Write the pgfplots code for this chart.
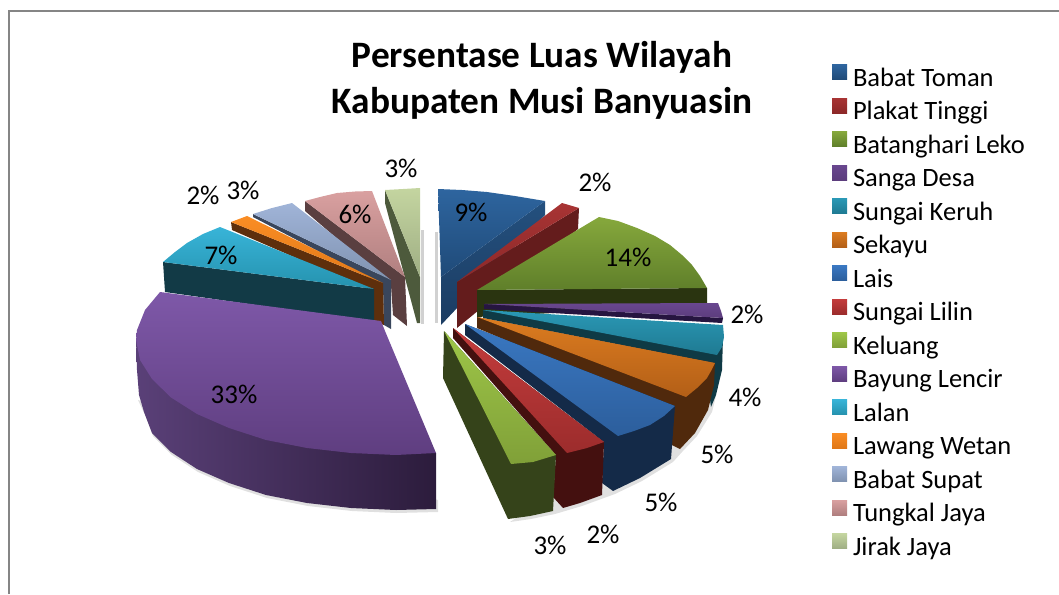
\documentclass[border=0pt]{standalone}
\usepackage{pgfplots}
\pgfplotsset{compat=1.18}
\usepackage{fontspec}
\setmainfont{Carlito}
\definecolor{aT}{HTML}{2E659F}\definecolor{aB}{HTML}{1F4A78}\definecolor{aS}{HTML}{1B3C62}\definecolor{aR}{HTML}{24507E}
\definecolor{bT}{HTML}{A83434}\definecolor{bB}{HTML}{8C2828}\definecolor{bS}{HTML}{641C1C}
\definecolor{cT}{HTML}{86A83C}\definecolor{cB}{HTML}{5F7F2A}\definecolor{cS}{HTML}{2A3410}
\definecolor{dT}{HTML}{69478F}\definecolor{dB}{HTML}{5C3D7D}\definecolor{dS}{HTML}{261540}
\definecolor{eT}{HTML}{2A98B5}\definecolor{eB}{HTML}{1F7A92}\definecolor{eS}{HTML}{0F3A45}
\definecolor{fT}{HTML}{DC7C20}\definecolor{fB}{HTML}{B35F17}\definecolor{fS}{HTML}{50290C}
\definecolor{gT}{HTML}{3A78C2}\definecolor{gB}{HTML}{2C5E9C}\definecolor{gS}{HTML}{142A48}
\definecolor{hT}{HTML}{C43C3C}\definecolor{hB}{HTML}{9C2C2C}\definecolor{hS}{HTML}{44100F}
\definecolor{iT}{HTML}{9EC648}\definecolor{iB}{HTML}{80A038}\definecolor{iS}{HTML}{35431A}
\definecolor{jT}{HTML}{7E58A8}\definecolor{jB}{HTML}{5F3E80}\definecolor{jL}{HTML}{5A4078}\definecolor{jR}{HTML}{2C1C3C}
\definecolor{kT}{HTML}{38B4D8}\definecolor{kB}{HTML}{2592AE}\definecolor{kS}{HTML}{123A46}
\definecolor{lT}{HTML}{FA8D24}\definecolor{lB}{HTML}{E07818}\definecolor{lS}{HTML}{5E2F0C}
\definecolor{mT}{HTML}{A0B4D8}\definecolor{mB}{HTML}{7F92B0}\definecolor{mS}{HTML}{39465C}
\definecolor{nT}{HTML}{D9A0A0}\definecolor{nB}{HTML}{B07F7F}\definecolor{nS}{HTML}{5A3F40}
\definecolor{oT}{HTML}{C4D5A0}\definecolor{oB}{HTML}{9FAE84}\definecolor{oS}{HTML}{4D5A3C}
\newcommand{\poly}[2]{\addplot[forget plot,draw=none,#1] coordinates {#2} -- cycle;}
\newcommand{\tp}[2]{\poly{top color=#1T,bottom color=#1B}{#2}}
\newcommand{\sd}[2]{\poly{fill=#1S}{#2}}
\newcommand{\lab}[3]{\node[font=\fontsize{27}{27}\selectfont,inner sep=0pt] at (axis cs:#1,#2) {#3};}
\begin{document}
\begin{tikzpicture}
\useasboundingbox (0,0) rectangle (1059pt,594pt);
\begin{axis}[
  at={(0,0)},anchor=south west,
  scale only axis,width=1059pt,height=594pt,
  xmin=0,xmax=1059,ymin=0,ymax=594,y dir=reverse,
  hide axis,clip=false,
  legend cell align=left,
  legend image code/.code={\path[#1,draw=none] (0pt,0.5pt) rectangle (15pt,15.5pt);\path[draw=none,fill=none] (0pt,0pt) -- (21pt,0pt);},
  legend style={at={(axis cs:832,64.5)},anchor=north west,draw=none,fill=none,inner sep=0pt,outer sep=0pt,
    font=\fontsize{26.5}{26.5}\selectfont,
    row sep=5pt,
    nodes={inner sep=0pt,text height=19pt,text depth=7pt}},
]
\addlegendimage{top color=aT,bottom color=aB}\addlegendentry{Babat Toman}
\addlegendimage{top color=bT,bottom color=bB}\addlegendentry{Plakat Tinggi}
\addlegendimage{top color=cT,bottom color=cB}\addlegendentry{Batanghari Leko}
\addlegendimage{top color=dT,bottom color=dB}\addlegendentry{Sanga Desa}
\addlegendimage{top color=eT,bottom color=eB}\addlegendentry{Sungai Keruh}
\addlegendimage{top color=fT,bottom color=fB}\addlegendentry{Sekayu}
\addlegendimage{top color=gT,bottom color=gB}\addlegendentry{Lais}
\addlegendimage{top color=hT,bottom color=hB}\addlegendentry{Sungai Lilin}
\addlegendimage{top color=iT,bottom color=iB}\addlegendentry{Keluang}
\addlegendimage{top color=jT,bottom color=jB}\addlegendentry{Bayung Lencir}
\addlegendimage{top color=kT,bottom color=kB}\addlegendentry{Lalan}
\addlegendimage{top color=lT,bottom color=lB}\addlegendentry{Lawang Wetan}
\addlegendimage{top color=mT,bottom color=mB}\addlegendentry{Babat Supat}
\addlegendimage{top color=nT,bottom color=nB}\addlegendentry{Tungkal Jaya}
\addlegendimage{top color=oT,bottom color=oB}\addlegendentry{Jirak Jaya}
% frame
\addplot[forget plot,draw=black!48,line width=2pt] coordinates {(9,594)(9,11)(1059,11)};
% soft shadows
\poly{fill=black!12}{(138,400)(145,415)(153,436)(172,455)(198,472)(230,486)(267,498)(308,506)(352,511)(396,513)(438,512)(438,500)}
\poly{fill=black!12}{(510,522)(531,519)(555,514)(582,506)(604,498)(615,494)(642,481)(673,462)(682,452)(697,436)(712,412)(716,396)(700,396)}
\poly{fill=black!18}{(421,230)(424,230)(424,324)(421,324)}
\poly{fill=black!18}{(435,232)(438,232)(438,323)(435,323)}
% Jirak Jaya
\sd{o}{(385,190)(385,203)(417,323)(420,323)(420,277)}
\tp{o}{(385,190)(403,189)(420,188)(420,277)}
% Tungkal Jaya
\sd{n}{(305,201)(305,211)(391,285)(393,315)(407,326)(405,277)}
\tp{n}{(305,201)(320,197)(337,193)(355,191.5)(372,191)(405,277)}
% Babat Supat
\sd{m}{(253,214)(253,217)(383,285)(384,325)(391,329)(391,280)}
\tp{m}{(253,214)(272,208)(292,203)(391,280)}
% Lawang Wetan
\sd{l}{(231,222)(232,230)(374,292)(374,322)(384,325)(383,283)}
\tp{l}{(231,222)(247,216)(383,283)}
% Lalan
\sd{k}{(163,262)(374,289)(374,322)(165,292)}
\tp{k}{(163,262)(175,252)(187,243)(203,234)(220,227)(374,289)}
% Bayung Lencir
\poly{left color=jL,right color=jR}{(136,340)(137,370)(139,395)(144,412)(152,433)(171,452)(197,469)(229,483)(266,495)(307,503)(351,508)(396,510)(436,509)(436,453)}
\tp{j}{(381,321)(160,292)(145,310)(137,330)(136,340)(140,360)(152,379)(171,397.5)(197,414)(229,428)(266,440)(307,448)(351,453)(396,455)(436,453)(385,331)}
% Babat Toman
\poly{top color=aR,bottom color=aS}{(441,277)(441,325)(545,215)(545,201)}
\tp{a}{(438,189)(462,190)(487,192)(515,196)(545,201)(441,277)}
% Plakat Tinggi
\sd{b}{(457,282)(457,328)(578,229)(579,208)}
\tp{b}{(562,203)(579,208)(457,282)}
% Batanghari Leko
\sd{c}{(477,290)(707,288)(707,305)(477,317)}
\tp{c}{(477,290)(599,217)(618,221)(637,228)(655,236)(670,245)(682,255)(692,265)(700,276)(707,288)}
% Sanga Desa
\sd{d}{(484,304)(484,309)(722,323)(723,318)}
\tp{d}{(484,304)(718,303)(721,311)(723,318)}
% Sungai Keruh
\sd{e}{(483,310)(483,318)(714,363)(708,385)(711,407)(716,395)(722,370)(723,337)}
\tp{e}{(483,310)(723,325)(724,337)(722,347)(717,355)}
% Sekayu
\sd{f}{(477,317)(477,328)(672,410)(672,445)(680,449)(695,433)(708,410)(714,385)(715,363)}
\tp{f}{(477,317)(715,363)(711,371)(707,378)(697,388)(686,397)}
% Lais
\sd{g}{(465,324)(465,335)(604,442)(602,483)(613,491)(640,478)(671,459)(675,406)}
\tp{g}{(465,324)(675,406)(664,416)(650,425)(634,431)(618,436)}
% Sungai Lilin
\sd{h}{(453,328)(453,338)(556,455)(553,497)(563,508)(580,503)(602,495)(604,442)}
\tp{h}{(453,328)(604,442)(587,448)(567,453)}
% Keluang
\sd{i}{(444,331)(443,378)(508,519)(530,516)(553,511)(556,455)}
\tp{i}{(444,331)(556,455)(533,462)(511,464)}
% title
\node[font=\fontsize{37.3}{46}\selectfont\bfseries,align=center,inner sep=0pt] at (axis cs:542,80.5) {Persentase Luas Wilayah\\Kabupaten Musi Banyuasin};
% labels
\lab{471}{212}{9\%}\lab{595}{182}{2\%}\lab{628}{257}{14\%}\lab{747}{314}{2\%}
\lab{745}{397}{4\%}\lab{717}{454}{5\%}\lab{661}{502}{5\%}\lab{603}{534}{2\%}
\lab{550}{545}{3\%}\lab{234}{394}{33\%}\lab{221}{255}{7\%}\lab{203}{195}{2\%}
\lab{243}{190}{3\%}\lab{355}{214}{6\%}\lab{401}{168}{3\%}
\end{axis}
\end{tikzpicture}
\end{document}
